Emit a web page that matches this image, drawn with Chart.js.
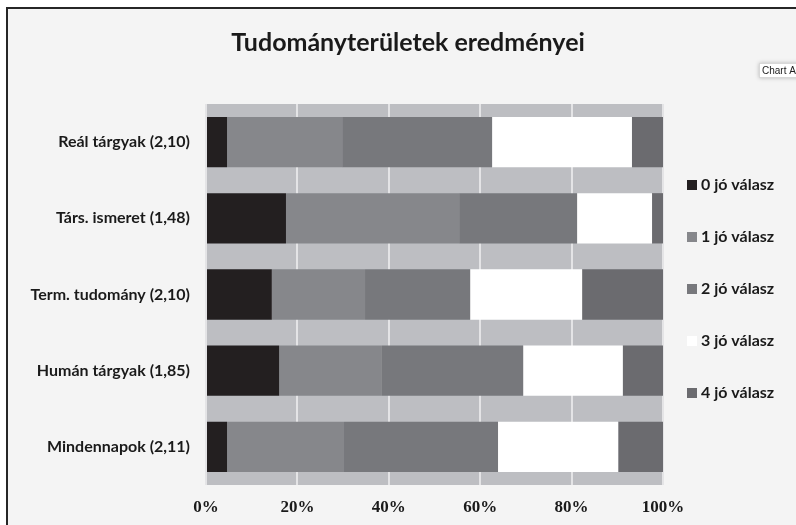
<!DOCTYPE html>
<html>
<head>
<meta charset="utf-8">
<script src="https://cdn.jsdelivr.net/npm/chart.js@4.4.1/dist/chart.umd.min.js"></script>
<style>
  html, body { margin: 0; padding: 0; background: #ffffff; }
  #wrap { width: 796px; height: 525px; position: relative; }
  canvas { display: block; }
</style>
</head>
<body>
<div id="wrap"><canvas id="c" width="796" height="525"></canvas></div>
<script>
const titleText = 'Tudományterületek eredményei';
const categories = ['Reál tárgyak (2,10)', 'Társ. ismeret (1,48)', 'Term. tudomány (2,10)', 'Humán tárgyak (1,85)', 'Mindennapok (2,11)'];
const seriesNames = ['0 jó válasz', '1 jó válasz', '2 jó válasz', '3 jó válasz', '4 jó válasz'];
const correct0 = [4.6, 17.5, 14.4, 16.0, 4.6];
const correct1 = [25.2, 37.9, 20.4, 22.5, 25.6];
const correct2 = [32.8, 25.8, 23.0, 30.9, 33.7];
const correct3 = [30.6, 16.4, 24.5, 21.8, 26.3];
const correct4 = [6.8, 2.4, 17.7, 8.8, 9.8];
const xTicks = [0, 20, 40, 60, 80, 100];
const seriesColors = ['#231f20', '#86878b', '#77787c', '#ffffff', '#6b6b6f'];

const seriesValues = [correct0, correct1, correct2, correct3, correct4];

const decorPlugin = {
  id: 'decor',
  beforeDraw(chart) {
    const ctx = chart.ctx;
    ctx.save();
    ctx.fillStyle = '#f4f4f4';
    ctx.fillRect(0, 0, chart.width, chart.height);
    ctx.fillStyle = '#ffffff';
    ctx.fillRect(0, 0, chart.width, 7);
    ctx.fillRect(0, 0, 6, chart.height);
    ctx.fillStyle = '#262626';
    ctx.fillRect(6, 7, chart.width - 6, 2);
    ctx.fillRect(6, 7, 2, chart.height - 7);
    const a = chart.chartArea;
    ctx.fillStyle = '#bdbec2';
    ctx.fillRect(a.left, a.top, a.right - a.left, a.bottom - a.top);
    ctx.restore();
  },
  afterDraw(chart) {
    const ctx = chart.ctx;
    ctx.save();
    ctx.fillStyle = '#1a1a1a';
    ctx.font = 'bold 25px Lato';
    ctx.textAlign = 'center';
    ctx.textBaseline = 'middle';
    ctx.fillText(titleText, 408, 43);
    const ys = [185, 237, 289, 341, 393];
    ctx.font = 'bold 16px Lato';
    ctx.textAlign = 'left';
    chart.data.datasets.forEach((ds, i) => {
      ctx.fillStyle = ds.backgroundColor;
      ctx.fillRect(687, ys[i] - 5, 10, 10);
      ctx.fillStyle = '#1a1a1a';
      ctx.fillText(ds.label, 701, ys[i]);
    });
    ctx.shadowColor = 'rgba(0,0,0,0.25)';
    ctx.shadowBlur = 4;
    ctx.fillStyle = '#ffffff';
    ctx.fillRect(759, 63, 60, 15);
    ctx.shadowBlur = 0;
    ctx.strokeStyle = '#d8d8d8';
    ctx.lineWidth = 1;
    ctx.strokeRect(759.5, 63.5, 60, 14);
    ctx.fillStyle = '#222';
    ctx.font = '10px "Liberation Sans"';
    ctx.textBaseline = 'middle';
    ctx.fillText('Chart Area', 762, 71);
    ctx.restore();
  }
};

new Chart(document.getElementById('c'), {
  type: 'bar',
  data: {
    labels: categories,
    datasets: seriesNames.map((n, i) => ({
      label: n,
      data: seriesValues[i],
      backgroundColor: seriesColors[i],
      borderWidth: 0,
      barPercentage: 0.66,
      categoryPercentage: 1.0
    }))
  },
  options: {
    indexAxis: 'y',
    responsive: false,
    animation: false,
    devicePixelRatio: 1,
    layout: { padding: { top: 104, right: 133, left: 0, bottom: 0 } },
    plugins: {
      legend: { display: false },
      title: { display: false },
      tooltip: { enabled: false }
    },
    scales: {
      x: {
        stacked: true,
        min: 0,
        max: 100,
        afterBuildTicks(scale) { scale.ticks = xTicks.map(v => ({ value: v })); },
        afterFit(scale) { scale.height = 40; },
        border: { display: false },
        grid: { color: '#e4e4e6', lineWidth: 2, drawTicks: false },
        ticks: {
          padding: 12,
          color: '#1a1a1a',
          font: { family: '"Liberation Serif"', weight: 'bold', size: 17 },
          callback: v => v + '%',
          maxRotation: 0,
          autoSkip: false
        }
      },
      y: {
        stacked: true,
        afterFit(scale) { scale.width = 206; },
        border: { display: false },
        grid: { display: false, drawTicks: false },
        ticks: {
          padding: 16,
          color: '#1a1a1a',
          font: { family: 'Lato', weight: 'bold', size: 16 }
        }
      }
    }
  },
  plugins: [decorPlugin]
});
</script>
</body>
</html>
